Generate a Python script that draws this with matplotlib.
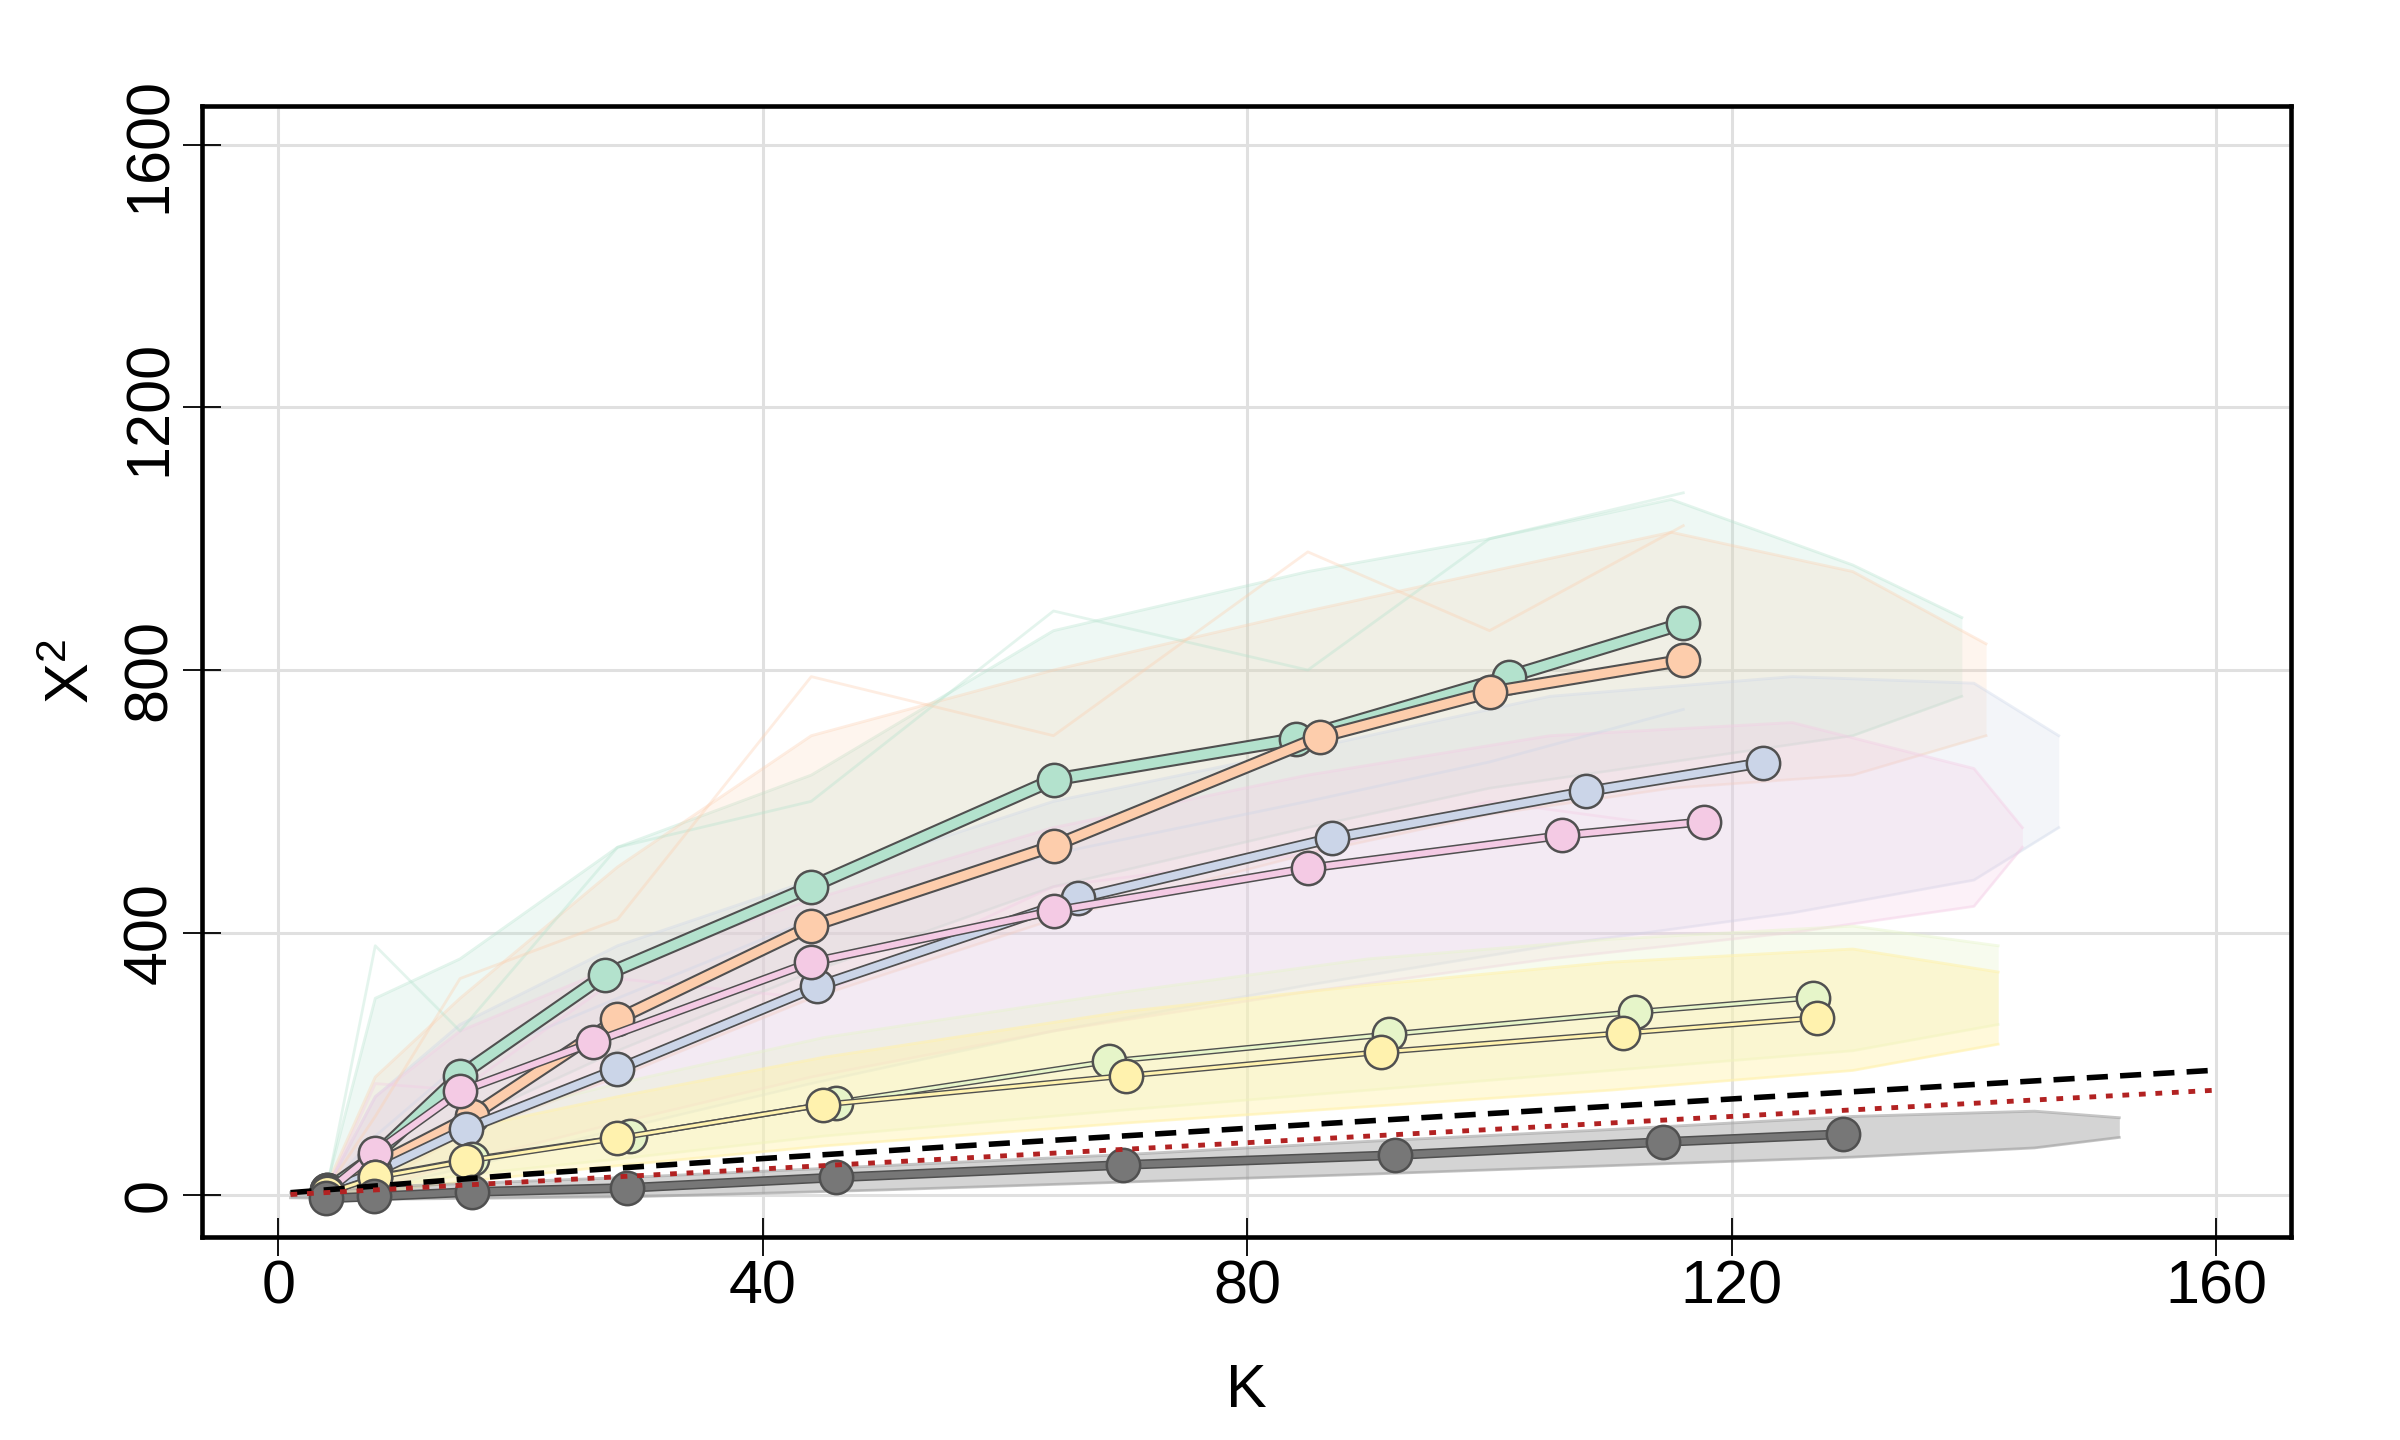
import matplotlib
matplotlib.use("Agg")
import matplotlib.pyplot as plt

plt.rcParams['font.family'] = ['Liberation Sans', 'DejaVu Sans']
plt.rcParams['mathtext.fontset'] = 'custom'
plt.rcParams['mathtext.rm'] = 'Liberation Sans'
plt.rcParams['mathtext.it'] = 'Liberation Sans'

# ---- main series (K, X^2) ----
k_green = [4, 8, 15, 27, 44, 64, 84, 101.6, 116]
y_green = [8, 60, 182, 336, 470, 633, 695, 790, 871]

k_orange = [4, 8, 16, 28, 44, 64, 86, 100, 116]
y_orange = [8, 45, 121, 268, 410, 532, 698, 766, 815]

k_blue = [4, 8, 15.5, 28, 44.5, 66, 87, 108, 122.6]
y_blue = [5, 35, 101, 192, 318, 452, 544, 615, 659]

k_pink = [4, 8, 15, 26, 44, 64, 85, 106, 117.7]
y_pink = [5, 65, 158, 233, 355, 433, 498, 548, 569]

k_lgreen = [4, 8, 16, 29, 46, 68.6, 91.7, 112, 126.7]
y_lgreen = [3, 28, 55, 90, 141, 204, 245, 279, 301]

k_yellow = [4, 8, 15.5, 28, 45, 70, 91, 111, 127]
y_yellow = [3, 27, 52, 87, 138, 182, 218, 247, 270]

k_gray = [3.9, 7.9, 16, 28.8, 46, 69.7, 92.2, 114.3, 129.2]
y_gray = [-5, -2, 5, 11, 27, 46, 61, 81, 93]

# reference curves
k_ref = [1, 20, 40, 60, 80, 100, 120, 140, 160]
y_crit = [3.8, 31.4, 55.8, 79.1, 101.9, 124.3, 146.6, 168.6, 190.5]
k_diag = [1, 160]
y_diag = [1, 160]

# ---- faint clouds behind (envelopes) ----
cg_k = [4, 8, 15, 28, 44, 64, 85, 100, 115, 130, 139]
cg_hi = [15, 300, 360, 530, 640, 860, 950, 1000, 1060, 960, 880]
cg_lo = [0, 20, 110, 220, 340, 470, 560, 620, 660, 700, 760]

co_k = [4, 8, 15, 28, 44, 64, 85, 100, 115, 130, 141]
co_hi = [15, 180, 300, 500, 700, 800, 890, 950, 1010, 950, 840]
co_lo = [0, 15, 90, 180, 300, 420, 520, 580, 620, 640, 700]

cb_k = [4, 8, 15, 28, 44, 64, 85, 105, 125, 140, 147]
cb_hi = [10, 150, 260, 380, 480, 600, 680, 760, 790, 780, 700]
cb_lo = [0, 10, 40, 100, 170, 250, 320, 380, 430, 480, 560]

cp_k = [4, 8, 15, 28, 44, 64, 85, 105, 125, 140, 144]
cp_hi = [10, 150, 250, 350, 450, 560, 640, 700, 720, 650, 560]
cp_lo = [0, 10, 50, 110, 180, 250, 310, 360, 400, 440, 530]

cl_k = [4, 8, 15, 28, 45, 70, 90, 110, 130, 142]
cl_hi = [8, 60, 110, 170, 240, 310, 360, 390, 410, 380]
cl_lo = [0, 10, 30, 55, 90, 130, 160, 190, 220, 260]

cy_k = [4, 8, 15, 28, 45, 70, 90, 110, 130, 142]
cy_hi = [8, 55, 100, 150, 210, 280, 320, 355, 375, 340]
cy_lo = [0, 5, 20, 45, 75, 110, 135, 160, 190, 230]

cd_k = [1, 10, 30, 50, 70, 90, 110, 130, 145, 152]
cd_hi = [4, 14, 28, 45, 62, 82, 100, 120, 128, 118]
cd_lo = [-4, -6, -2, 8, 20, 32, 45, 58, 72, 88]

# a few of the stray faint curves that stick out of the clouds
stray_k = [4, 8, 15, 28, 44, 64, 85, 100, 116]
stray_green = [10, 380, 250, 530, 600, 890, 800, 1000, 1070]
stray_orange = [10, 120, 330, 420, 790, 700, 980, 860, 1020]
stray_blue = [8, 90, 200, 300, 420, 520, 600, 660, 740]
stray_pink = [8, 170, 160, 330, 300, 470, 520, 600, 560]

GREEN = '#B3E2CD'
ORANGE = '#FDCDAC'
BLUE = '#CBD5E8'
PINK = '#F4CAE4'
LGREEN = '#E6F5C9'
YELLOW = '#FFF2AE'
GRAY = '#777777'
EDGE = '#505050'


def cloud(ax, k, hi, lo, color, alpha):
    ax.fill_between(k, lo, hi, color=color, alpha=alpha, lw=0, zorder=1)
    ax.plot(k, hi, color=color, alpha=alpha + 0.15, lw=2, zorder=1)
    ax.plot(k, lo, color=color, alpha=alpha + 0.15, lw=2, zorder=1)


def series(ax, k, y, color, lw_out, lw_in, z):
    ax.plot(k, y, color=EDGE, lw=lw_out, solid_capstyle='round',
            solid_joinstyle='round', zorder=z)
    ax.plot(k, y, color=color, lw=lw_in, solid_capstyle='round',
            solid_joinstyle='round', zorder=z + 0.1,
            marker='o', markersize=24, markerfacecolor=color,
            markeredgecolor=EDGE, markeredgewidth=1.8)


fig = plt.figure(figsize=(24, 14.4), dpi=100)
ax = fig.add_axes([0.0842, 0.1413, 0.8705, 0.7854])

cloud(ax, cg_k, cg_hi, cg_lo, GREEN, 0.22)
cloud(ax, co_k, co_hi, co_lo, ORANGE, 0.2)
cloud(ax, cb_k, cb_hi, cb_lo, BLUE, 0.22)
cloud(ax, cp_k, cp_hi, cp_lo, PINK, 0.25)
cloud(ax, cl_k, cl_hi, cl_lo, LGREEN, 0.3)
cloud(ax, cy_k, cy_hi, cy_lo, YELLOW, 0.45)
cloud(ax, cd_k, cd_hi, cd_lo, '#a0a0a0', 0.45)

ax.plot(stray_k, stray_green, color=GREEN, alpha=0.35, lw=2, zorder=1)
ax.plot(stray_k, stray_orange, color=ORANGE, alpha=0.35, lw=2, zorder=1)
ax.plot(stray_k, stray_blue, color=BLUE, alpha=0.35, lw=2, zorder=1)
ax.plot(stray_k, stray_pink, color=PINK, alpha=0.35, lw=2, zorder=1)

series(ax, k_green, y_green, GREEN, 10.0, 7.0, 5)
series(ax, k_orange, y_orange, ORANGE, 9.5, 6.5, 6)
series(ax, k_blue, y_blue, BLUE, 8.0, 5.5, 7)
series(ax, k_pink, y_pink, PINK, 6.5, 4.3, 8)
series(ax, k_lgreen, y_lgreen, LGREEN, 4.2, 2.2, 9)
series(ax, k_yellow, y_yellow, YELLOW, 4.2, 2.2, 10)
series(ax, k_gray, y_gray, GRAY, 7.0, 4.8, 11)

ax.plot(k_ref, y_crit, color='black', lw=4.0, ls=(0, (3.8, 2.2)), zorder=12)
ax.plot(k_diag, y_diag, color='#B22222', lw=3.5, ls=(0, (1.4, 2.0)), zorder=12)

ax.set_xlim(-6.3, 166.2)
ax.set_ylim(-63, 1660)
ax.set_xticks([0, 40, 80, 120, 160])
ax.set_yticks([0, 400, 800, 1200, 1600])
ax.grid(True, color='#e0e0e0', lw=2.2, zorder=0)
ax.set_axisbelow(True)

for s in ax.spines.values():
    s.set_linewidth(3.3)
    s.set_zorder(20)

ax.tick_params(direction='inout', length=27, width=1.3, labelsize=44, pad=3)
for lab in ax.get_yticklabels():
    lab.set_rotation(90)
    lab.set_va('center')

ax.set_xlabel('K', fontsize=44)
ax.set_ylabel(r'X$^{2}$', fontsize=44)
ax.xaxis.set_label_coords(0.5, -0.112)
ax.yaxis.set_label_coords(-0.048, 0.5)

fig.savefig('out.png', dpi=100)
